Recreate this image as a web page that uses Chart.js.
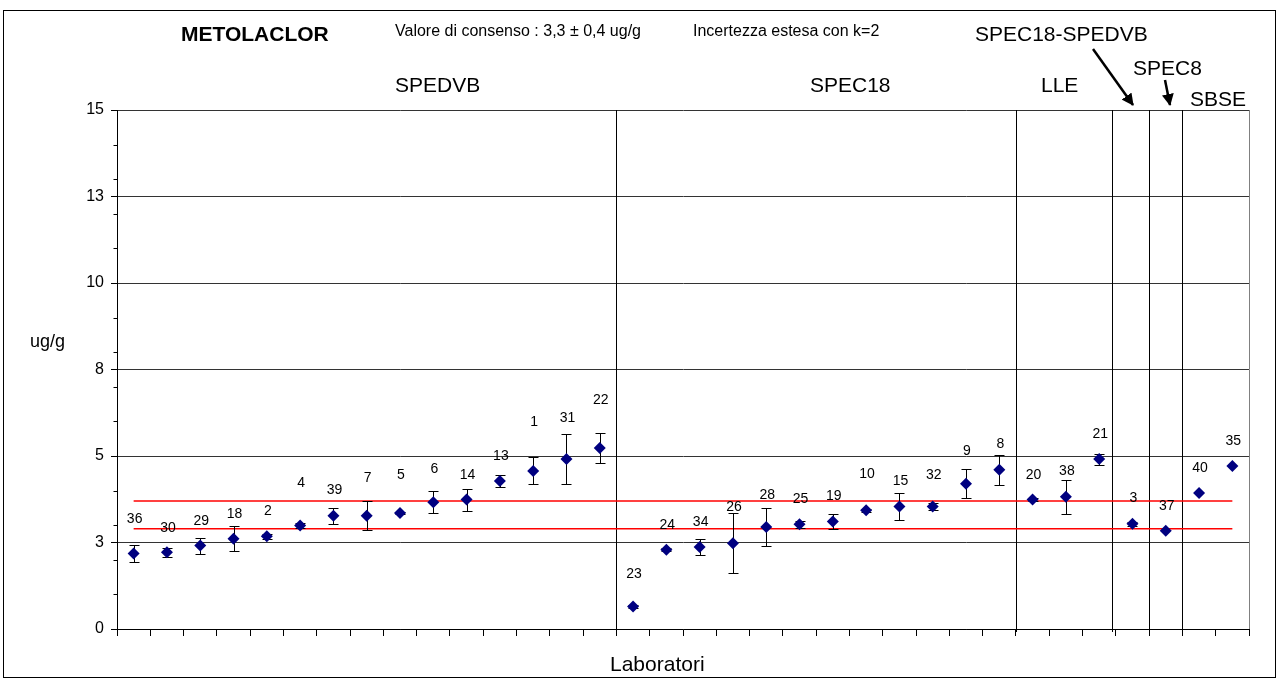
<!DOCTYPE html>
<html>
<head>
<meta charset="utf-8">
<script src="https://cdn.jsdelivr.net/npm/chart.js@4.4.0/dist/chart.umd.min.js"></script>
<style>
  html, body { margin: 0; padding: 0; background: #fff; }
  #wrap { position: relative; width: 1280px; height: 682px; overflow: hidden;
          font-family: 'Liberation Sans', Arial, sans-serif; color: #000; }
  #frame { position: absolute; left: 3px; top: 10px; width: 1273px; height: 668px;
           border: 1px solid #000; box-sizing: border-box; pointer-events: none; }
  canvas { position: absolute; left: 0; top: 0; }
  .t { position: absolute; white-space: nowrap; line-height: 1; transform: translateY(-50%); }
  svg { position: absolute; left: 0; top: 0; pointer-events: none; }
</style>
</head>
<body>
<div id="wrap">
  <canvas id="chart" width="1280" height="682"></canvas>
  <div id="frame"></div>
  <div class="t" style="left:181px; top:33px; font-size:21px; font-weight:bold;">METOLACLOR</div>
  <div class="t" style="left:395px; top:31px; font-size:16px;">Valore di consenso : 3,3 ± 0,4 ug/g</div>
  <div class="t" style="left:693px; top:31px; font-size:16px;">Incertezza estesa con k=2</div>
  <div class="t" style="left:975px; top:33px; font-size:21px;">SPEC18-SPEDVB</div>
  <div class="t" style="left:395px; top:84px; font-size:21px;">SPEDVB</div>
  <div class="t" style="left:810px; top:84px; font-size:21px;">SPEC18</div>
  <div class="t" style="left:1041px; top:84px; font-size:21px;">LLE</div>
  <div class="t" style="left:1133px; top:67px; font-size:21px;">SPEC8</div>
  <div class="t" style="left:1190px; top:98px; font-size:21px;">SBSE</div>
  <div class="t" style="left:30px; top:341px; font-size:18px;">ug/g</div>
  <div class="t" style="left:610px; top:663px; font-size:21px;">Laboratori</div>
  <svg width="1280" height="682">
    <defs>
      <marker id="head" markerWidth="12" markerHeight="12" refX="11" refY="6" orient="auto" markerUnits="userSpaceOnUse">
        <path d="M0,0 L12,6 L0,12 z" fill="#000"/>
      </marker>
    </defs>
    <line x1="1093" y1="49" x2="1133" y2="105" stroke="#000" stroke-width="2.5" marker-end="url(#head)"/>
    <line x1="1165" y1="80" x2="1170" y2="105" stroke="#000" stroke-width="2.5" marker-end="url(#head)"/>
  </svg>
</div>
<script>
// lab codes, in plotting order
const labs = ['36', '30', '29', '18', '2', '4', '39', '7', '5', '6', '14', '13', '1', '31', '22',
              '23', '24', '34', '26', '28', '25', '19', '10', '15', '32', '9', '8',
              '20', '38', '21', '3', '37', '40', '35'];

// reported values (ug/g)
const values = [2.18, 2.22, 2.41, 2.61, 2.68, 2.99, 3.27, 3.27, 3.35, 3.66, 3.74, 4.28, 4.57, 4.91, 5.23,
                0.65, 2.29, 2.37, 2.48, 2.95, 3.03, 3.11, 3.43, 3.54, 3.54, 4.20, 4.60,
                3.74, 3.82, 4.91, 3.04, 2.84, 3.93, 4.71];

// half width of the error bars (ug/g)
const errors = [0.25, 0.13, 0.23, 0.37, 0.08, 0.06, 0.23, 0.42, 0.03, 0.32, 0.32, 0.18, 0.39, 0.73, 0.43,
                0.04, 0.05, 0.23, 0.86, 0.55, 0.10, 0.22, 0.05, 0.39, 0.10, 0.41, 0.43,
                0.05, 0.49, 0.16, 0.06, 0, 0, 0];

// level (ug/g) where each lab code label sits
const labelPos = [3.18, 2.92, 3.11, 3.32, 3.42, 4.21, 4.00, 4.36, 4.44, 4.62, 4.46, 4.99, 5.99, 6.10, 6.60,
                  1.59, 3.01, 3.09, 3.53, 3.87, 3.76, 3.83, 4.48, 4.26, 4.45, 5.13, 5.33,
                  4.46, 4.56, 5.63, 3.77, 3.56, 4.65, 5.44];

// method group boundaries, in category units
const groupBounds = [14.5, 26.5, 29.4, 30.5, 31.5];

const consensus = 3.3;
const expandedU = 0.4;

const yMin = 0, yMax = 15, yStep = 2.5, yMinor = 1;

const FONT = "'Liberation Sans', Arial, sans-serif";

const extras = {
  id: 'extras',
  beforeDatasetsDraw(chart) {
    const { ctx, chartArea: a, scales: { x, y } } = chart;
    ctx.save();
    // right edge of plot area
    ctx.strokeStyle = '#808080';
    ctx.lineWidth = 1;
    ctx.beginPath();
    ctx.moveTo(Math.round(a.right) + 0.5, a.top);
    ctx.lineTo(Math.round(a.right) + 0.5, a.bottom);
    ctx.stroke();

    // method separators
    ctx.strokeStyle = '#000';
    groupBounds.forEach(b => {
      const px = Math.round(x.getPixelForValue(b)) + 0.5;
      ctx.beginPath();
      ctx.moveTo(px, a.top);
      ctx.lineTo(px, a.bottom + 3);
      ctx.stroke();
    });

    // consensus band
    ctx.strokeStyle = '#ff0000';
    ctx.lineWidth = 1.5;
    const x0 = x.getPixelForValue(0), x1 = x.getPixelForValue(labs.length - 1);
    [consensus + expandedU, consensus - expandedU].forEach(v => {
      const py = y.getPixelForValue(v);
      ctx.beginPath();
      ctx.moveTo(x0, py);
      ctx.lineTo(x1, py);
      ctx.stroke();
    });

    // error bars
    ctx.strokeStyle = '#000';
    ctx.lineWidth = 1;
    values.forEach((v, i) => {
      const e = errors[i];
      if (!e) return;
      const px = Math.round(x.getPixelForValue(i)) + 0.5;
      const top = Math.round(y.getPixelForValue(v + e)) + 0.5;
      const bot = Math.round(y.getPixelForValue(v - e)) + 0.5;
      ctx.beginPath();
      ctx.moveTo(px, top); ctx.lineTo(px, bot);
      ctx.moveTo(px - 5, top); ctx.lineTo(px + 5, top);
      ctx.moveTo(px - 5, bot); ctx.lineTo(px + 5, bot);
      ctx.stroke();
    });
    ctx.restore();
  },
  afterDatasetsDraw(chart) {
    const { ctx, scales: { x, y } } = chart;
    ctx.save();
    ctx.fillStyle = '#000';
    ctx.font = '14px ' + FONT;
    ctx.textAlign = 'center';
    ctx.textBaseline = 'middle';
    labs.forEach((lab, i) => {
      ctx.fillText(lab, x.getPixelForValue(i) + 1, y.getPixelForValue(labelPos[i]));
    });

    // minor ticks on the value axis
    ctx.strokeStyle = '#000';
    ctx.lineWidth = 1;
    const ax = Math.round(y.right) + 0.5;
    for (let v = yMin; v <= yMax; v += yMinor) {
      const py = Math.round(y.getPixelForValue(v)) + 0.5;
      ctx.beginPath();
      ctx.moveTo(ax - 4, py);
      ctx.lineTo(ax, py);
      ctx.stroke();
    }
    ctx.restore();
  }
};

new Chart(document.getElementById('chart'), {
  type: 'line',
  data: {
    labels: labs,
    datasets: [{
      label: 'Metolaclor',
      data: values,
      showLine: false,
      pointStyle: 'rectRot',
      pointRadius: 6,
      pointBackgroundColor: '#000080',
      pointBorderColor: '#000080',
      pointBorderWidth: 0
    }]
  },
  options: {
    responsive: false,
    animation: false,
    layout: { padding: { left: 0, top: 110, right: 31, bottom: 0 } },
    plugins: {
      legend: { display: false },
      tooltip: { enabled: false }
    },
    scales: {
      x: {
        type: 'category',
        offset: true,
        grid: { offset: true, drawOnChartArea: false, drawTicks: true, tickLength: 7, color: '#000' },
        border: { color: '#000', width: 1 },
        ticks: { display: false },
        afterFit(s) { s.height = 53; }
      },
      y: {
        min: yMin,
        max: yMax,
        grid: { color: '#333', lineWidth: 1, drawTicks: true, tickLength: 6, tickColor: '#000' },
        border: { color: '#000', width: 1 },
        ticks: {
          stepSize: yStep,
          padding: 7,
          color: '#000',
          font: { size: 16, family: FONT },
          callback: v => Math.round(v)
        },
        afterFit(s) { s.width = 117; }
      }
    }
  },
  plugins: [extras]
});
</script>
</body>
</html>
